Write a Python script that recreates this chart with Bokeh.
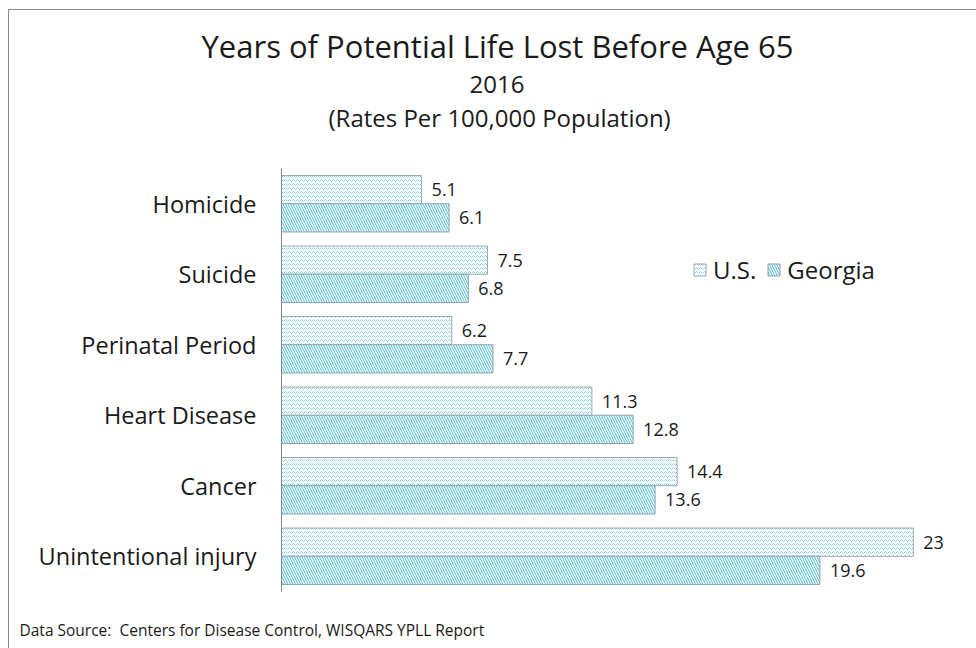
from bokeh.plotting import figure
from bokeh.models import ColumnDataSource, LabelSet, Legend, LegendItem, FactorRange, Range1d, Title
from bokeh.transform import dodge
from bokeh.core.properties import value
from bokeh.embed import file_html
from bokeh.resources import INLINE

causes = ["Homicide", "Suicide", "Perinatal Period", "Heart Disease", "Cancer", "Unintentional injury"]
us = [5.1, 7.5, 6.2, 11.3, 14.4, 23]
georgia = [6.1, 6.8, 7.7, 12.8, 13.6, 19.6]
series = ["U.S.", "Georgia"]

FONT = "Open Sans"
XMAX = 24.5

src = ColumnDataSource(dict(
    cause=causes, us=us, ga=georgia,
    us_t=[f"{v:g}" for v in us], ga_t=[f"{v:g}" for v in georgia],
))

p = figure(width=968, height=639, y_range=FactorRange(*causes[::-1], range_padding=0),
           x_range=Range1d(0, XMAX),
           output_backend="svg", toolbar_location=None, margin=(9, 0, 0, 8),
           min_border_left=272, min_border_right=23, min_border_top=158, min_border_bottom=58)
p.styles = {"border-left": "1px solid #8a8a8a", "border-top": "1px solid #8a8a8a"}
p.outline_line_color = None
p.xgrid.visible = False
p.ygrid.visible = False
p.xaxis.visible = False

yax = p.yaxis[0]
yax.axis_line_color = "#868686"
yax.major_tick_line_color = None
yax.minor_tick_line_color = None
yax.major_label_standoff = 19
yax.major_label_text_font = FONT
yax.major_label_text_font_size = "23.5px"
yax.major_label_text_color = "#1a1a1a"

r_us = p.hbar(y=dodge("cause", 0.2, range=p.y_range), right="us", left=0, height=0.4, source=src,
              fill_color="white", line_color="#9aa8ae", line_width=1,
              hatch_pattern="horizontal_wave", hatch_color="#86d4e8", hatch_scale=4, hatch_weight=1)
r_ga = p.hbar(y=dodge("cause", -0.2, range=p.y_range), right="ga", left=0, height=0.4, source=src,
              fill_color="white", line_color="#8fa3ab", line_width=1,
              hatch_pattern="left_diagonal_line", hatch_color="#45bcd8", hatch_scale=5, hatch_weight=1)

for col, xcol, dy in (("us_t", "us", 0.2), ("ga_t", "ga", -0.2)):
    p.add_layout(LabelSet(x=xcol, y=dodge("cause", dy, range=p.y_range), text=col, source=src,
                          x_offset=10, text_baseline="middle", text_font=value(FONT),
                          text_font_size="18px", text_color="#1a1a1a"))

def title(text, size, standoff, offset, where="above", color="#1a1a1a"):
    p.add_layout(Title(text=text, text_font=FONT, text_font_size=size, text_font_style="normal",
                       text_color=color, align="left", offset=offset, standoff=standoff), where)

# added nearest-first; the white "." titles only act as spacers
title(".", "10px", 25, 0, color="white")
title("(Rates Per 100,000 Population)", "24px", 0, 47)
title("2016", "24px", 12, 188)
title("Years of Potential Life Lost Before Age 65", "31px", 1, -80)
title(".", "10px", 6, 0, where="below", color="white")
title("Data Source:\u00a0 Centers for Disease Control, WISQARS YPLL Report", "15.5px", 17.6, -262,
      where="below")

legend = Legend(items=[LegendItem(label=series[0], renderers=[r_us]),
                       LegendItem(label=series[1], renderers=[r_ga])],
                location=(411, 305), orientation="horizontal",
                label_text_font=FONT, label_text_font_size="24px", label_text_color="#1a1a1a",
                glyph_width=15, glyph_height=15, label_standoff=6, spacing=10,
                padding=0, margin=0, border_line_color=None, background_fill_alpha=0)
p.add_layout(legend)

open("out.html", "w").write(file_html(p, INLINE))
